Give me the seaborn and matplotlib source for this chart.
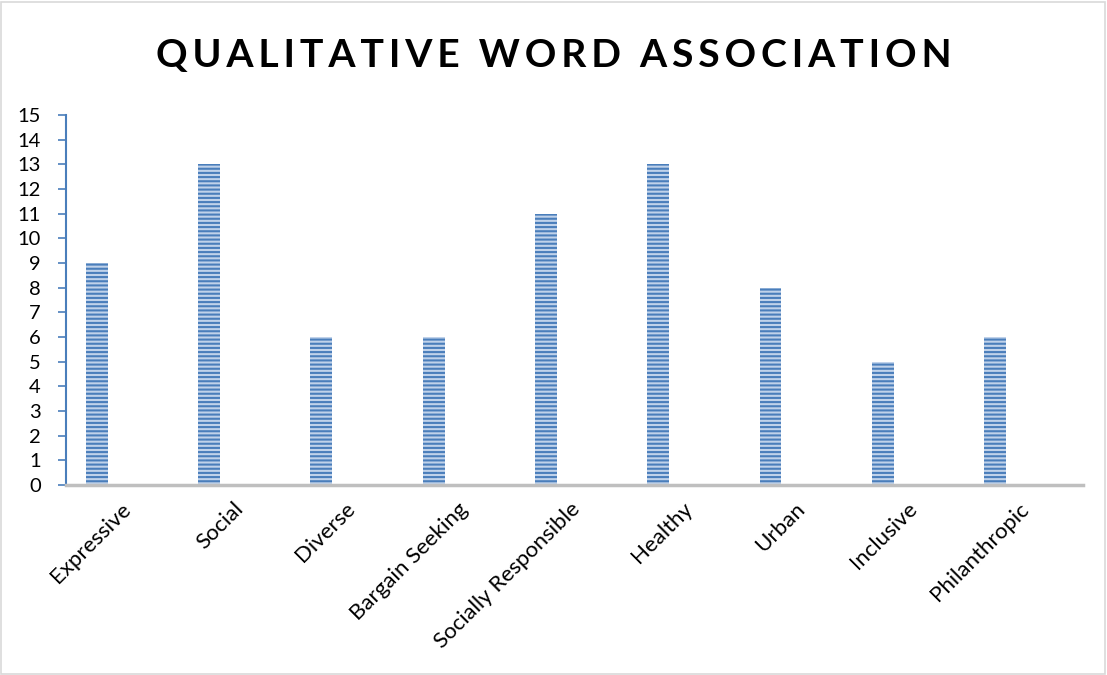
import matplotlib
matplotlib.use("Agg")
import matplotlib.pyplot as plt
import seaborn as sns
import pandas as pd
from matplotlib.patches import Rectangle

categories = ["Expressive", "Social", "Diverse", "Bargain Seeking", "Socially Responsible",
              "Healthy", "Urban", "Inclusive", "Philanthropic"]
values = [9, 13, 6, 6, 11, 13, 8, 5, 6]
yticks = list(range(0, 16))
title = "QUALITATIVE WORD ASSOCIATION"

df = pd.DataFrame({"word": categories, "count": values})

sns.set_theme(style="white")
plt.rcParams["font.family"] = ["Lato", "DejaVu Sans"]
plt.rcParams["hatch.linewidth"] = 1.5

fig = plt.figure(figsize=(11.07, 6.75), dpi=100)
ax = fig.add_axes([0.0596, 0.2815, 0.9184, 0.548])

sns.barplot(data=df, x="word", y="count", ax=ax, width=0.195,
            color="#c0d2ea", edgecolor="#4a7ebb", linewidth=0, hatch="----",
            saturation=1)

ax.set_xlim(-0.275, 8.78)
ax.set_ylim(0, 15)
ax.set_yticks(yticks)
ax.set_yticklabels([str(t) for t in yticks], fontsize=14.5, color="black")
ax.set_xticks([i + 0.275 for i in range(len(categories))])
ax.set_xticklabels(categories, rotation=45, ha="right", va="center",
                   rotation_mode="anchor", fontsize=16, color="black")
ax.tick_params(axis="x", length=0, pad=15)
ax.tick_params(axis="y", length=6, width=1.2, color="#4a7ebb", direction="out", pad=12, left=True)
ax.set_xlabel("")
ax.set_ylabel("")

for s in ["top", "right"]:
    ax.spines[s].set_visible(False)
ax.spines["left"].set_color("#4a7ebb")
ax.spines["left"].set_linewidth(1.5)
ax.spines["bottom"].set_color("#bfbfbf")
ax.spines["bottom"].set_linewidth(2.5)

spaced = "\u2009".join(title).replace("\u2009 \u2009", "  ")
fig.text(0.5, 0.918, spaced, ha="center", va="center", fontsize=28.2,
         fontweight="bold", color="black")

fig.patches.append(Rectangle((0.001, 0.002), 0.997, 0.995, transform=fig.transFigure,
                             fill=False, edgecolor="#d9d9d9", linewidth=1.2))

fig.savefig("out.png", dpi=100)
